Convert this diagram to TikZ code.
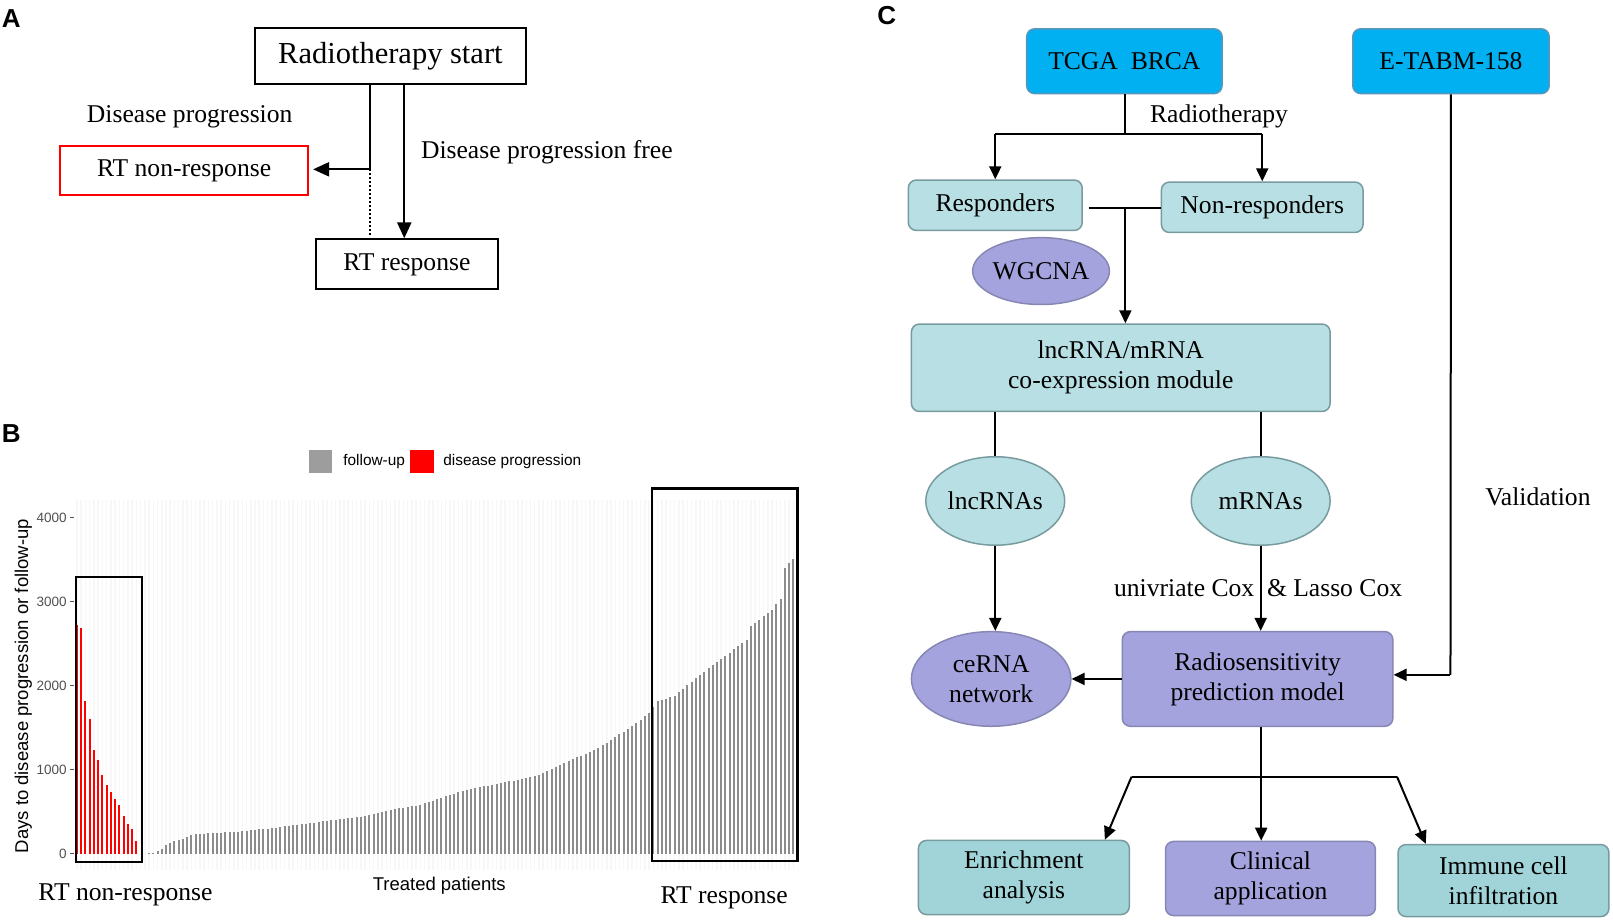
\documentclass[tikz,border=0pt]{standalone}
\usepackage{fontspec}
\setmainfont{Liberation Serif}
\newfontfamily\arialf{Liberation Sans}
\usetikzlibrary{arrows.meta,shapes.geometric}
\definecolor{cyanbox}{RGB}{0,176,240}
\definecolor{cyanedge}{RGB}{90,150,185}
\definecolor{tealL}{RGB}{184,223,227}
\definecolor{tealD}{RGB}{160,212,216}
\definecolor{tealedge}{RGB}{120,155,160}
\definecolor{lav}{RGB}{165,163,222}
\definecolor{lavedge}{RGB}{135,135,180}
\definecolor{bargray}{RGB}{140,140,140}
\definecolor{tickgray}{RGB}{80,80,80}
\newcommand\tnr{\fontsize{25.6}{30}\selectfont}
\begin{document}
\begin{tikzpicture}[x=1.0287pt,y=-1.0287pt,
  sz/.style 2 args={minimum width=#1*1.0287pt, minimum height=#2*1.0287pt},
  abox/.style={draw=black, line width=2pt, inner sep=0pt, font=\tnr},
  lbl/.style={inner sep=0pt, font=\tnr},
  plab/.style={inner sep=0pt, font=\arialf\bfseries\fontsize{26}{26}\selectfont},
  aline/.style={line width=2.2pt},
  aarr/.style={line width=2.2pt, -{Triangle[length=16pt,width=14pt]}},
  cbox/.style={draw=tealedge, line width=1.5pt, rounded corners=8pt, inner sep=0pt, font=\tnr, align=center},
  cell/.style={ellipse, draw=tealedge, line width=1.5pt, inner sep=0pt, font=\tnr, align=center},
  cline/.style={line width=2pt},
  carr/.style={line width=2pt, -{Triangle[length=13pt,width=12pt]}},
  gbar/.style={draw=bargray, line width=2pt},
  rbar/.style={draw=red, line width=2pt},
  stripe/.style={draw=gray!6, line width=1.5pt},
  rbox/.style={draw=black, line width=2.5pt},
  tlab/.style={inner sep=0pt, anchor=east, text=tickgray, font=\arialf\fontsize{13.5}{14}\selectfont},
  alab/.style={inner sep=0pt, font=\arialf\fontsize{18.5}{20}\selectfont},
  leg/.style={inner sep=0pt, anchor=west, font=\arialf\fontsize{15.4}{16}\selectfont}
]
\useasboundingbox[fill=white] (0,0) rectangle (1568,898.2);

%% ---------------- Panel A ----------------
\node[plab] (la) at (11,18) {A};
\node[abox, sz={263}{54}, font=\fontsize{30.5}{34}\selectfont] (rs) at (379.5,54.5) {Radiotherapy start};
\node[abox, draw=red, sz={241}{48}] (rtn) at (179,165.6) {RT non-response};
\node[abox, sz={177}{48.7}] (rtr) at (395.5,257) {RT response};
\node[lbl] (dp) at (184.4,114) {Disease progression};
\node[lbl] (dpf) at (531.6,148) {Disease progression free};
\coordinate (ja) at (360,164.6);
\coordinate (jd) at (360,228.5);
\coordinate (ra) at (393,0);
\draw[aline] (rs.south -| ja) -- (ja);
\draw[aarr, shorten >=4pt] (ja) -- (ja -| rtn.east);
\draw[line width=1.8pt, dash pattern=on 2pt off 2pt] (ja) -- (jd);
\draw[aarr] (rs.south -| ra) -- (rtr.north -| ra);

%% ---------------- Panel B ----------------
\node[plab] (lb) at (11,421) {B};
\fill[bargray!85] (300,437) rectangle (323,460);
\node[leg] (lfu) at (333.6,449) {follow-up};
\fill[red] (399,437) rectangle (422,460);
\node[leg] (ldp) at (430.8,449) {disease progression};

% faint background stripes
\foreach \i in {0,...,169}{
  \pgfmathsetmacro{\xx}{74.85+4.12*\i}
  \draw[stripe] (\xx,486) -- (\xx,846);
}
% ticks
\foreach \v [count=\j from 0] in {0,1000,2000,3000,4000}{
  \pgfmathsetmacro{\yy}{830-0.08175*\v}
  \draw[tickgray, line width=1pt] (68,\yy) -- (72,\yy);
  \node[tlab] (t\j) at (65,\yy) {\v};
}
\node[alab, rotate=90] (ylab) at (22.7,667) {Days to disease progression or follow-up};
\node[alab] (xlab) at (427,861) {Treated patients};

% red bars
\foreach \h [count=\i from 0] in {2720,2690,1820,1600,1230,1120,940,820,730,650,580,450,350,300,150}{
  \pgfmathsetmacro{\xx}{74.85+4.12*\i}
  \pgfmathsetmacro{\yy}{830-0.08175*\h}
  \draw[rbar] (\xx,830) -- (\xx,\yy);
}
% gray bars
\foreach \ia/\ha/\ib/\hb in {15/0/16/0, 16/0/18/15, 18/15/20/60, 20/60/21/100, 21/100/23/150, 23/150/25/180, 25/180/27/220, 27/220/28/235, 28/235/37/260, 37/260/45/300, 45/300/52/345, 52/345/60/400, 60/400/68/450, 68/450/76/543, 76/543/80/570, 80/570/92/762, 92/762/108/920, 108/920/115/1080, 115/1080/123/1258, 123/1258/131/1516, 131/1516/135/1675, 135/1675/137/1813, 137/1813/141/1880, 141/1880/147/2130, 147/2130/155/2430, 155/2430/158/2548, 158/2548/159/2706, 159/2706/164/2905, 164/2905/166/3030, 166/3030/167/3400, 167/3400/169/3508, 169/3508/170/3508}{
  \pgfmathtruncatemacro{\nn}{\ib-\ia-1}
  \foreach \k in {0,...,\nn}{
    \pgfmathsetmacro{\hh}{\ha+(\hb-\ha)*\k/(\ib-\ia)}
    \pgfmathsetmacro{\xx}{74.85+4.12*(\ia+\k)}
    \pgfmathsetmacro{\yy}{830-0.08175*\hh}
    \draw[gbar] (\xx,830) -- (\xx,\yy);
  }
}
\draw[rbox] (74,561) rectangle (138,838);
\draw[rbox] (634,475) rectangle (775,837);
\node[lbl] (bnr) at (122,870) {RT non-response};
\node[lbl] (br) at (704,873) {RT response};

%% ---------------- Panel C ----------------
\node[plab] (lc) at (862,15) {C};
\node[cbox, draw=cyanedge, fill=cyanbox, sz={190}{63}] (tcga) at (1093,59.5) {TCGA~~BRCA};
\node[cbox, draw=cyanedge, fill=cyanbox, sz={191}{63}] (etabm) at (1410.5,59.5) {E-TABM-158};
\node[cbox, fill=tealL, sz={169}{49}] (resp) at (967.5,199.5) {Responders};
\node[cbox, fill=tealL, sz={196}{49}] (nonr) at (1227,201.5) {Non-responders};
\node[cell, draw=lavedge, fill=lav, sz={107}{65}] (wgcna) at (1012,263.5) {WGCNA};
\node[cbox, fill=tealL, sz={407}{85}] (mod) at (1089.5,357.5) {lncRNA/mRNA\\co-expression module};
\node[cell, fill=tealL, sz={135}{86}] (lnc) at (967.5,487) {lncRNAs};
\node[cell, fill=tealL, sz={135}{86}] (mrna) at (1225.5,487) {mRNAs};
\node[cell, draw=lavedge, fill=lav, sz={155}{92}] (cerna) at (963.5,660) {ceRNA\\network};
\node[cbox, draw=lavedge, fill=lav, sz={263}{92}] (model) at (1222.5,660) {Radiosensitivity\\prediction model};
\node[cbox, fill=tealD, sz={205}{72}] (enr) at (995.3,853) {Enrichment\\analysis};
\node[cbox, draw=lavedge, fill=lav, sz={204}{72}] (clin) at (1235,854) {Clinical\\application};
\node[cbox, fill=tealD, sz={205}{70}] (imm) at (1461.5,856) {Immune cell\\infiltration};
\node[lbl] (radio) at (1185,113) {Radiotherapy};
\node[lbl] (cox) at (1223,572) {univriate Cox~~\& Lasso Cox};
\node[lbl] (valid) at (1495,483) {Validation};

\coordinate (jr) at (1094,130);
\draw[cline] (tcga.south -| jr) -- (jr);
\draw[cline] (resp.north |- jr) -- (nonr.north |- jr);
\draw[carr] (resp.north |- jr) -- (resp.north);
\draw[carr] (nonr.north |- jr) -- (nonr.north);
\coordinate (jm) at (1094,202);
\draw[cline, shorten <=6pt] (resp.east |- jm) -- (nonr.west |- jm);
\draw[carr] (jm) -- (jm |- mod.north);
\draw[cline] (mod.south -| lnc.north) -- (lnc.north);
\draw[cline] (mod.south -| mrna.north) -- (mrna.north);
\draw[carr] (lnc.south) -- (lnc.south |- cerna.north);
\draw[carr] (mrna.south) -- (mrna.south |- model.north);
\draw[carr] (model.west) -- (cerna.east);
\coordinate (jv) at (1410,656);
\draw[cline] (etabm.south) -- (jv);
\draw[carr] (jv) -- (model.east |- jv);
\coordinate (jb) at (1226,755);
\coordinate (jbl) at (1100,755);
\coordinate (jbr) at (1358,755);
\draw[cline] (model.south -| jb) -- (jb);
\draw[cline] (jbl) -- (jbr);
\draw[carr] (jb) -- (jb |- clin.north);
\draw[carr] (jbl) -- ([xshift=81pt]enr.north);
\draw[carr] (jbr) -- ([xshift=-77.7pt]imm.north);
\end{tikzpicture}
\end{document}
